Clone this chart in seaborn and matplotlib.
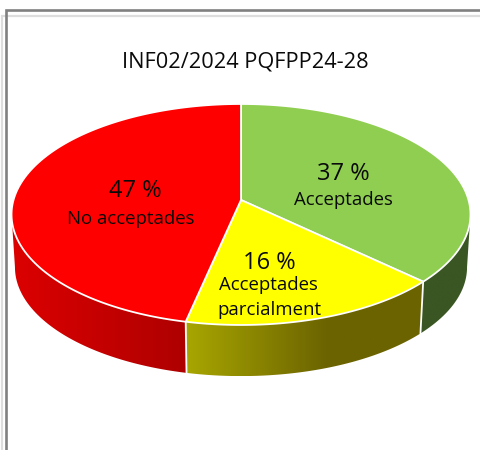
import numpy as np
import matplotlib
matplotlib.use('Agg')
import matplotlib.pyplot as plt
from matplotlib.colors import to_rgb
from matplotlib.patches import Polygon
import seaborn as sns

# Chart values, clockwise from 12 o'clock
title = 'INF02/2024 PQFPP24-28'
categories = ['Acceptades', 'Acceptades\nparcialment', 'No acceptades']
shares = [37.0, 16.4, 46.6]
top_colors = ['#8fce50', '#ffff00', '#ff0000']

# Side colours: left and right end of each slice's shading
side_left = ['#3a5623', '#a8a600', '#dc0000']
side_right = ['#3a5623', '#6b6300', '#ae0000']
# Part of the slice width the shading takes before it stays flat
side_ramp = [1.0, 0.6, 1.0]

sns.set_theme(style='white')
plt.rcParams['font.family'] = ['Open Sans', 'DejaVu Sans']

fig = plt.figure(figsize=(4.81, 4.5), dpi=100)
ax = fig.add_axes([0, 0, 1, 1])
ax.axis('off')

# Tilted disc seen in perspective
apex_x, apex_y = 241, 200
rad_x, rad_y, persp = 227.5, 108.6, 0.131
depth, shrink = 53, 0.985
# Where the rim reaches its widest point left and right
widest = np.degrees(np.arccos(-persp))


def rim(deg):
    t = np.radians(deg)
    w = 1 + persp * np.cos(t)
    return apex_x + rad_x * np.sin(t) / w, apex_y - rad_y * np.cos(t) / w


def lower_rim(deg):
    x, y = rim(deg)
    return apex_x + shrink * (x - apex_x), apex_y + shrink * (y - apex_y) + depth


# Slice limits in degrees come from the shares
edges = np.concatenate([[0], np.cumsum(shares)]) / sum(shares) * 360

# Side wall: a horizontal gradient image clipped to each slice's wall
for i in range(len(shares)):
    start, end = max(edges[i], widest), min(edges[i + 1], 360 - widest)
    sub = np.linspace(start, end, 200)
    tx, ty = rim(sub)
    lx, ly = lower_rim(sub[::-1])
    xs, ys = np.r_[tx, lx], np.r_[ty, ly]
    n_ramp = int(256 * side_ramp[i])
    shades = sns.blend_palette([side_left[i], side_right[i]], n_colors=n_ramp)
    shades = list(shades) + [to_rgb(side_right[i])] * (256 - n_ramp)
    wall = Polygon(np.column_stack([xs, ys]), closed=True, transform=ax.transData,
                   fc='none', ec='none')
    ax.add_patch(wall)
    img = ax.imshow(np.array(shades)[None, :, :], aspect='auto', interpolation='bilinear',
                    extent=[xs.min(), xs.max(), ys.max(), ys.min()], zorder=2)
    img.set_clip_path(wall)

ax.set_xlim(0, 481)
ax.set_ylim(450, 0)

# White seams between the visible side walls
for deg in edges[1:3]:
    tx, ty = rim(deg)
    lx, ly = lower_rim(deg)
    ax.plot([tx, lx], [ty, ly], color='white', lw=1.3, zorder=3)

# Top face
for i in range(len(shares)):
    sub = np.linspace(edges[i], edges[i + 1], 200)
    tx, ty = rim(sub)
    ax.add_patch(Polygon(np.column_stack([np.r_[apex_x, tx], np.r_[apex_y, ty]]),
                         closed=True, fc=top_colors[i], ec='white', lw=1.3,
                         joinstyle='round', zorder=4))

# Labels
big, small = 17, 13.4
ink = '#0a0a0a'
ax.text(245.5, 62, title, ha='center', va='center', fontsize=15.7, color=ink, zorder=6)
ax.text(343, 174, f'{shares[0]:.0f} %', ha='center', va='center', fontsize=big, color=ink, zorder=6)
ax.text(343, 200, categories[0], ha='center', va='center', fontsize=small, color=ink, zorder=6)
ax.text(269, 263, f'{shares[1]:.0f} %', ha='center', va='center', fontsize=big, color=ink, zorder=6)
line1, line2 = categories[1].split('\n')
ax.text(268, 285, line1, ha='center', va='center', fontsize=small, color=ink, zorder=6)
ax.text(269, 310, line2, ha='center', va='center', fontsize=small, color=ink, zorder=6)
ax.text(135, 191, f'{shares[2]:.0f} %', ha='center', va='center', fontsize=big, color=ink, zorder=6)
ax.text(131, 219, categories[2], ha='center', va='center', fontsize=small, color=ink, zorder=6)

# Frame left over from the page the chart sits in
ax.plot([6, 6, 481], [450, 10, 10], color='#808080', lw=1.9, solid_joinstyle='miter', zorder=1)
ax.plot([2.2, 2.2, 481], [450, 15.8, 15.8], color='#dddddd', lw=1.6, solid_joinstyle='miter', zorder=0)

fig.savefig('out.png', dpi=100)
